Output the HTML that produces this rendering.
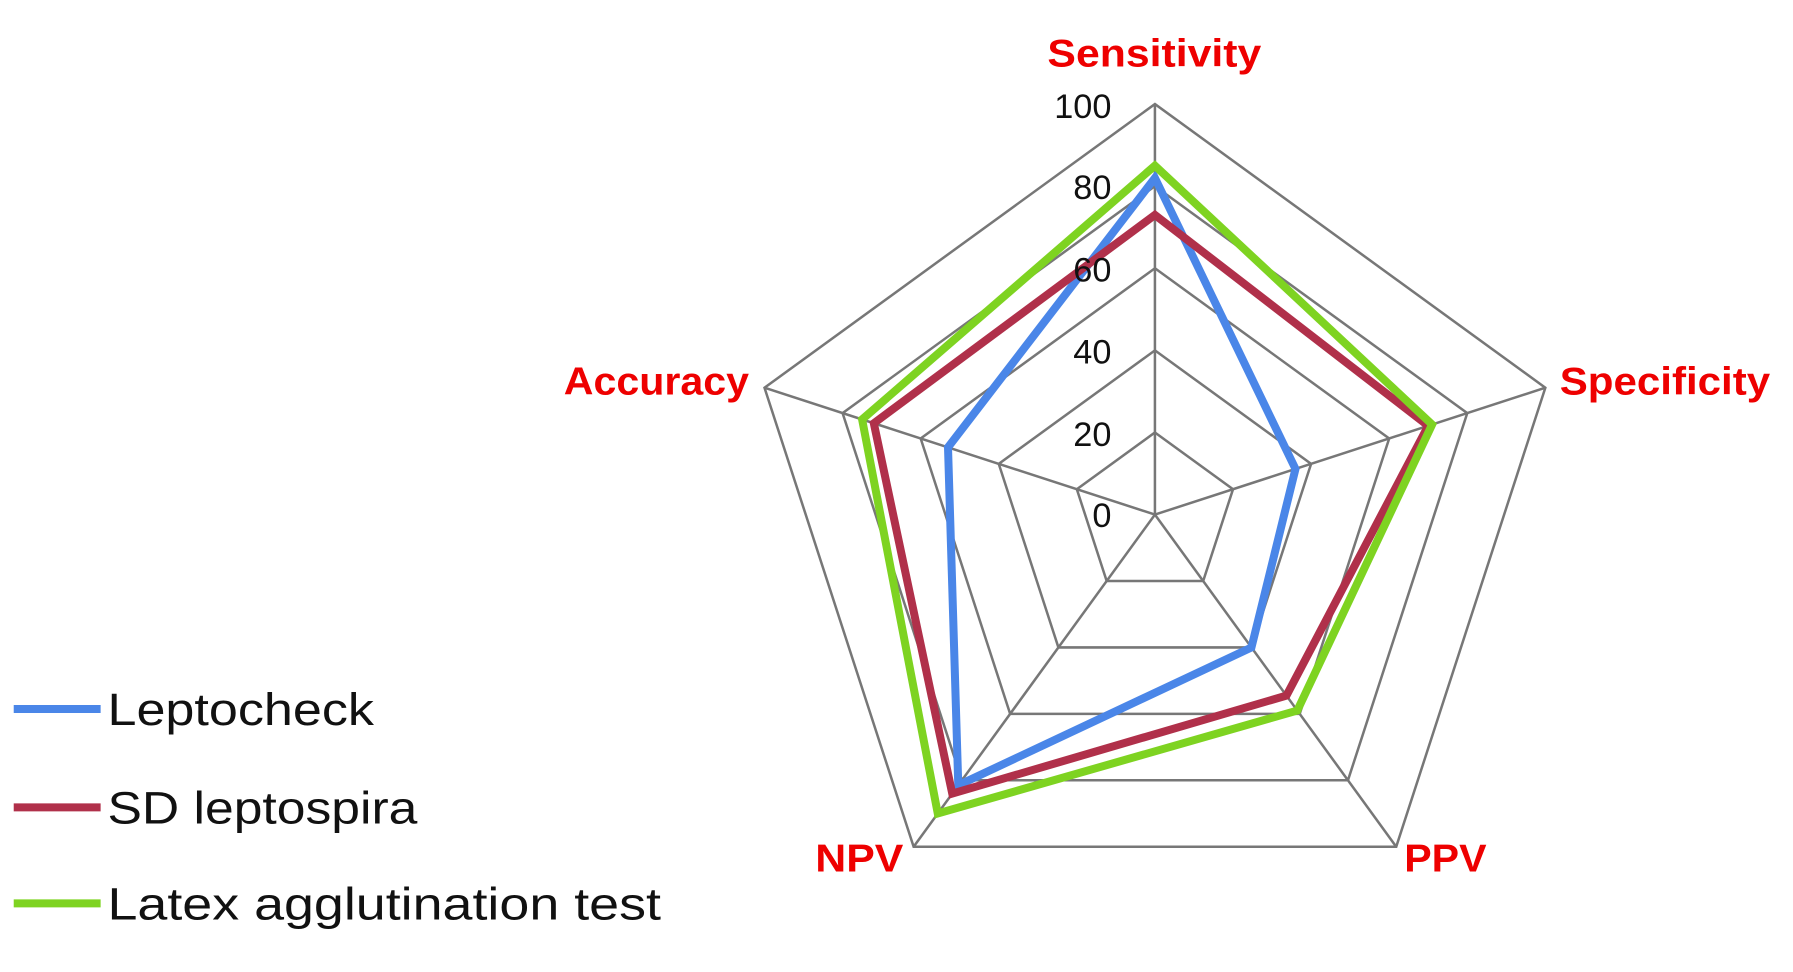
<!DOCTYPE html>
<html><head><meta charset="utf-8"><style>
html,body{margin:0;padding:0;background:#fff;}
svg{display:block;}
text{font-family:"Liberation Sans",sans-serif;}
</style></head><body>
<svg id="s" width="1793" height="972" viewBox="0 0 1568 850" preserveAspectRatio="none">
<g id="grid" fill="none" stroke="#777" stroke-width="2.2"></g>
<g id="series" fill="none" stroke-width="7" stroke-linejoin="miter"></g>
<g font-size="30" fill="#111" text-anchor="end">
<text x="972" y="103">100</text>
<text x="972" y="174">80</text>
<text x="972" y="246">60</text>
<text x="972" y="318">40</text>
<text x="972" y="390">20</text>
<text x="972" y="461">0</text>
</g>
<g font-size="34" font-weight="bold" fill="#ee0000">
<text x="916" y="58" textLength="187" lengthAdjust="spacingAndGlyphs">Sensitivity</text>
<text x="1364" y="345" textLength="184" lengthAdjust="spacingAndGlyphs">Specificity</text>
<text x="1228" y="762" textLength="72" lengthAdjust="spacingAndGlyphs">PPV</text>
<text x="713" y="762" textLength="77" lengthAdjust="spacingAndGlyphs">NPV</text>
<text x="493" y="345" textLength="162" lengthAdjust="spacingAndGlyphs">Accuracy</text>
</g>
<g stroke-width="7">
<line x1="12" y1="620" x2="88" y2="620" stroke="#4a86e8"/>
<line x1="12" y1="706" x2="88" y2="706" stroke="#b0304a"/>
<line x1="12" y1="790" x2="88" y2="790" stroke="#7ed321"/>
</g>
<g font-size="40" fill="#111">
<text x="94" y="634" textLength="233" lengthAdjust="spacingAndGlyphs">Leptocheck</text>
<text x="94" y="720" textLength="271" lengthAdjust="spacingAndGlyphs">SD leptospira</text>
<text x="94" y="804" textLength="484" lengthAdjust="spacingAndGlyphs">Latex agglutination test</text>
</g>
</svg>
<script>
var cx=1010,cy=450,R=359,ns="http://www.w3.org/2000/svg";
function pt(i,v){var a=i*2*Math.PI/5;return [cx+Math.sin(a)*R*v/100,cy-Math.cos(a)*R*v/100];}
var g=document.getElementById('grid');
for(var k=1;k<=5;k++){var p=[];for(var i=0;i<5;i++)p.push(pt(i,k*20).join(','));
var e=document.createElementNS(ns,'polygon');e.setAttribute('points',p.join(' '));g.appendChild(e);}
for(var i=0;i<5;i++){var q=pt(i,100);var l=document.createElementNS(ns,'line');
l.setAttribute('x1',cx);l.setAttribute('y1',cy);l.setAttribute('x2',q[0]);l.setAttribute('y2',q[1]);g.appendChild(l);}
var S=[["#4a86e8",[82,36,40,81.5,53]],["#b0304a",[73,70,54.5,84,72]],["#7ed321",[85,71,59,90,75]]];
var sg=document.getElementById('series');
S.forEach(function(s){var p=[];for(var i=0;i<5;i++)p.push(pt(i,s[1][i]).join(','));
var e=document.createElementNS(ns,'polygon');e.setAttribute('points',p.join(' '));e.setAttribute('stroke',s[0]);sg.appendChild(e);});
</script>
</body></html>
